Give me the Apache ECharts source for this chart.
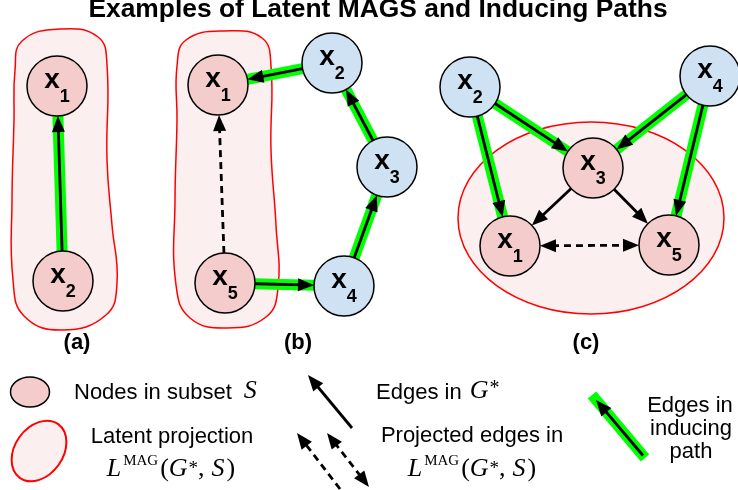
<!DOCTYPE html>
<html><head><meta charset="utf-8">
<script src="https://cdn.jsdelivr.net/npm/echarts@6/dist/echarts.min.js"></script>
<style>html,body{margin:0;padding:0;background:#fff}#c{width:738px;height:490px}</style>
</head><body><div id="c"></div>
<script>
// ---------------- data ----------------
const titleText = 'Examples of Latent MAGS and Inducing Paths';

// nodes of the three graphs (a), (b), (c)
const nodeIds  = ['a1','a2','b1','b2','b3','b4','b5','c1','c2','c3','c4','c5'];
const nodeSub  = ['1','2','1','2','3','4','5','1','2','3','4','5'];
const nodeX    = [57, 63, 218, 332, 387, 344, 225, 510, 470, 593, 710, 669];
const nodeY    = [86, 281, 85, 63, 167, 286, 283, 246, 87, 168, 76, 245];
const nodeInS  = [1, 1, 1, 0, 0, 0, 1, 1, 0, 1, 0, 1];

// edges
const edgeFrom     = ['a2','b2','b3','b4','b5','b5','c2','c4','c2','c4','c3','c3','c1'];
const edgeTo       = ['a1','b1','b2','b3','b4','b1','c3','c3','c1','c5','c1','c5','c5'];
const edgeDashed   = [0, 0, 0, 0, 0, 1, 0, 0, 0, 0, 0, 0, 1];
const edgeBothWays = [0, 0, 0, 0, 0, 0, 0, 0, 0, 0, 0, 0, 1];
const edgeInducing = [1, 1, 1, 1, 1, 0, 1, 1, 1, 1, 0, 0, 0];

// latent projection regions (outline points / ellipse)
const blobA = [[15,70],[22,41],[60,29],[98,37],[107,65],[107,160],[112,225],[117,283],[106,315],[62,330],[24,316],[13,280],[12,200],[14,120]];
const blobB = [[177,66],[186,40],[225,31],[262,38],[271,66],[271,150],[276,225],[278,288],[266,317],[227,328],[190,318],[176,285],[175,200],[177,120]];
const ellipseC = [591, 218, 133, 96];

const panelLabels = ['(a)', '(b)', '(c)'];
const legendTexts = ['Nodes in subset ', 'Latent projection', 'Edges in ', 'Projected edges in', 'Edges in', 'inducing', 'path'];

// ---------------- styles / layout ----------------
const SANS = '"Liberation Sans", Arial, sans-serif';
const SERIF = '"Liberation Serif", "Times New Roman", serif';
const PINK = '#f4cccc', BLUE = '#cfe2f3', REGION = '#fcefef', RED = '#ff0000', GREEN = '#00ff00';
const NODE_R = 30;
const GREEN_W = 11, EDGE_W = 2.8;

const mctx = document.createElement('canvas').getContext('2d');
function tw(t, f) { mctx.font = f; return mctx.measureText(t).width; }

function txt(text, font, size, x, baseline, align) {
  return {type: 'text', x: x, y: baseline - 0.34 * size, z: 10,
    style: {text: text, font: font, fill: '#000', textAlign: align || 'left', align: align || 'left',
            textVerticalAlign: 'middle', verticalAlign: 'middle'}};
}
// pieces: [text, font, size, dyBaseline, gapBefore]
function textRun(pieces, x, baseline, align) {
  const widths = pieces.map(p => tw(p[0], p[1]));
  const total = pieces.reduce((s, p, i) => s + widths[i] + (p[4] || 0), 0);
  let cx = align === 'center' ? x - total / 2 : x;
  const els = [];
  pieces.forEach((p, i) => {
    cx += (p[4] || 0);
    els.push(txt(p[0], p[1], p[2], cx, baseline + (p[3] || 0), 'left'));
    cx += widths[i];
  });
  return els;
}
function mathLMAG(cx, baseline) {
  const it = 'italic 26px ' + SERIF, rm = '26px ' + SERIF;
  return textRun([
    ['L', it, 26, 0, 0], ['MAG', '15px ' + SERIF, 15, -12, 2], ['(', rm, 26, 0, 2],
    ['G', it, 26, 0, 0], ['*', '19px ' + SERIF, 19, -3, 1], [',', rm, 26, 0, 0],
    ['S', it, 26, 0, 7], [')', rm, 26, 0, 2]
  ], cx, baseline, 'center');
}

// arrow drawing between two pixel points
function arrowHead(tip, ux, uy) {
  const L = 16, W = 6.5;
  const bx = tip[0] - ux * L, by = tip[1] - uy * L;
  return {type: 'polygon', shape: {points: [tip, [bx - uy * W, by + ux * W], [bx + uy * W, by - ux * W]]},
          style: {fill: '#000'}};
}
function arrowShapes(s, e, dashed, both) {
  const dx = e[0] - s[0], dy = e[1] - s[1], len = Math.hypot(dx, dy);
  const ux = dx / len, uy = dy / len, cut = 12;
  const e2 = [e[0] - ux * cut, e[1] - uy * cut];
  const s2 = both ? [s[0] + ux * cut, s[1] + uy * cut] : s;
  const ls = {stroke: '#000', lineWidth: EDGE_W};
  if (dashed) ls.lineDash = [7, 5];
  const ch = [{type: 'line', shape: {x1: s2[0], y1: s2[1], x2: e2[0], y2: e2[1]}, style: ls}];
  ch.push(arrowHead(e, ux, uy));
  if (both) ch.push(arrowHead(s, -ux, -uy));
  return ch;
}
function idx(id) { return nodeIds.indexOf(id); }
function edgeEnds(i, api) {
  const a = idx(edgeFrom[i]), b = idx(edgeTo[i]);
  const p = api.coord([nodeX[a], nodeY[a]]), q = api.coord([nodeX[b], nodeY[b]]);
  const dx = q[0] - p[0], dy = q[1] - p[1], len = Math.hypot(dx, dy);
  const ux = dx / len, uy = dy / len;
  const r = api.size([NODE_R, 0])[0];
  return [[p[0] + ux * r, p[1] + uy * r], [q[0] - ux * r, q[1] - uy * r]];
}

const chart = echarts.init(document.getElementById('c'), null, {renderer: 'canvas'});

const graphicEls = [];
// title
graphicEls.push(txt(titleText, 'bold 26.4px ' + SANS, 26.4, 378, 19, 'center'));
// panel labels
const panelX = [77, 298, 586];
panelLabels.forEach((t, i) => graphicEls.push({type: 'text', x: panelX[i], y: 343, z: 10,
  style: {text: t, font: 'bold 22px ' + SANS, fill: '#000', textAlign: 'center', align: 'center', textVerticalAlign: 'middle', verticalAlign: 'middle'}}));
// legend symbols
graphicEls.push({type: 'ellipse', z: 5, shape: {cx: 30, cy: 392, rx: 19.5, ry: 15}, style: {fill: PINK, stroke: '#000', lineWidth: 1.5}});
graphicEls.push({type: 'ellipse', z: 5, x: 39, y: 451, rotation: 0.95, shape: {cx: 0, cy: 0, rx: 33, ry: 24}, style: {fill: REGION, stroke: RED, lineWidth: 2}});
graphicEls.push({type: 'group', z: 5, children: arrowShapes([352, 428], [308, 375], false, false)});
graphicEls.push({type: 'group', z: 5, children: arrowShapes([340, 489], [297, 433], true, false)});
graphicEls.push({type: 'group', z: 5, children: arrowShapes([327, 433], [369, 487], true, true)});
graphicEls.push({type: 'group', z: 5, children: [
  {type: 'line', shape: {x1: 592, y1: 395, x2: 645, y2: 458}, style: {stroke: GREEN, lineWidth: GREEN_W}}
].concat(arrowShapes([643, 455.5], [596, 400], false, false))});
// legend texts
const sansL = '22px ' + SANS;
graphicEls.push(...textRun([[legendTexts[0], sansL, 22, 0, 0], ['S', 'italic 26px ' + SERIF, 26, 0, 6]], 74, 400, 'left'));
graphicEls.push(txt(legendTexts[1], sansL, 22, 172, 444, 'center'));
graphicEls.push(...mathLMAG(171, 478));
graphicEls.push(...textRun([[legendTexts[2], sansL, 22, 0, 0], ['G', 'italic 26px ' + SERIF, 26, 0, 2], ['*', '20px ' + SERIF, 20, -4, 1]], 376, 400, 'left'));
graphicEls.push(txt(legendTexts[3], sansL, 22, 472, 443, 'center'));
graphicEls.push(...mathLMAG(472, 478));
graphicEls.push(txt(legendTexts[4], sansL, 22, 690, 413, 'center'));
graphicEls.push(txt(legendTexts[5], sansL, 22, 691, 436, 'center'));
graphicEls.push(txt(legendTexts[6], sansL, 22, 691, 459, 'center'));

const option = {
  animation: false,
  backgroundColor: '#fff',
  grid: {left: 0, right: 0, top: 0, bottom: 0},
  xAxis: {type: 'value', min: 0, max: 738, show: false},
  yAxis: {type: 'value', min: 0, max: 490, inverse: true, show: false},
  graphic: {elements: graphicEls},
  series: [
    { // latent projection regions
      type: 'custom', z: 1, clip: false, silent: true,
      data: [[0, 0], [1, 0], [2, 0]],
      renderItem: function (params, api) {
        const i = params.dataIndex;
        const st = {fill: REGION, stroke: RED, lineWidth: 1.5};
        if (i < 2) {
          const pts = (i === 0 ? blobA : blobB).map(p => api.coord(p));
          return {type: 'polygon', shape: {points: pts, smooth: 0.45}, style: st};
        }
        const c = api.coord([ellipseC[0], ellipseC[1]]);
        const sz = api.size([ellipseC[2], ellipseC[3]]);
        return {type: 'ellipse', shape: {cx: c[0], cy: c[1], rx: sz[0], ry: sz[1]}, style: st};
      }
    },
    { // inducing path highlight
      type: 'custom', z: 2, clip: false, silent: true,
      data: edgeFrom.map((f, i) => [i, 0]).filter(d => edgeInducing[d[0]]),
      renderItem: function (params, api) {
        const i = api.value(0);
        const ends = edgeEnds(i, api);
        return {type: 'line', shape: {x1: ends[0][0], y1: ends[0][1], x2: ends[1][0], y2: ends[1][1]},
                style: {stroke: GREEN, lineWidth: GREEN_W}};
      }
    },
    { // edges
      type: 'custom', z: 3, clip: false, silent: true,
      data: edgeFrom.map((f, i) => [i, 0]),
      renderItem: function (params, api) {
        const i = api.value(0);
        const ends = edgeEnds(i, api);
        return {type: 'group', children: arrowShapes(ends[0], ends[1], edgeDashed[i], edgeBothWays[i])};
      }
    },
    { // nodes
      type: 'custom', z: 4, clip: false, silent: true,
      data: nodeX.map((x, i) => [x, nodeY[i]]),
      renderItem: function (params, api) {
        const i = params.dataIndex;
        const c = api.coord([api.value(0), api.value(1)]);
        const r = api.size([NODE_R, 0])[0];
        const fx = 'bold 28px ' + SANS, fs = 'bold 18px ' + SANS;
        const w = tw('x', fx) + tw(nodeSub[i], fs);
        const x0 = c[0] - w / 2;
        return {type: 'group', children: [
          {type: 'circle', shape: {cx: c[0], cy: c[1], r: r}, style: {fill: nodeInS[i] ? PINK : BLUE, stroke: '#000', lineWidth: 1.5}},
          {type: 'text', x: x0, y: c[1] + 4 - 0.34 * 28, style: {text: 'x', font: fx, fill: '#000', textAlign: 'left', align: 'left', textVerticalAlign: 'middle', verticalAlign: 'middle'}},
          {type: 'text', x: x0 + tw('x', fx), y: c[1] + 17 - 0.34 * 18, style: {text: nodeSub[i], font: fs, fill: '#000', textAlign: 'left', align: 'left', textVerticalAlign: 'middle', verticalAlign: 'middle'}}
        ]};
      }
    }
  ]
};
chart.setOption(option);
</script>
</body></html>
